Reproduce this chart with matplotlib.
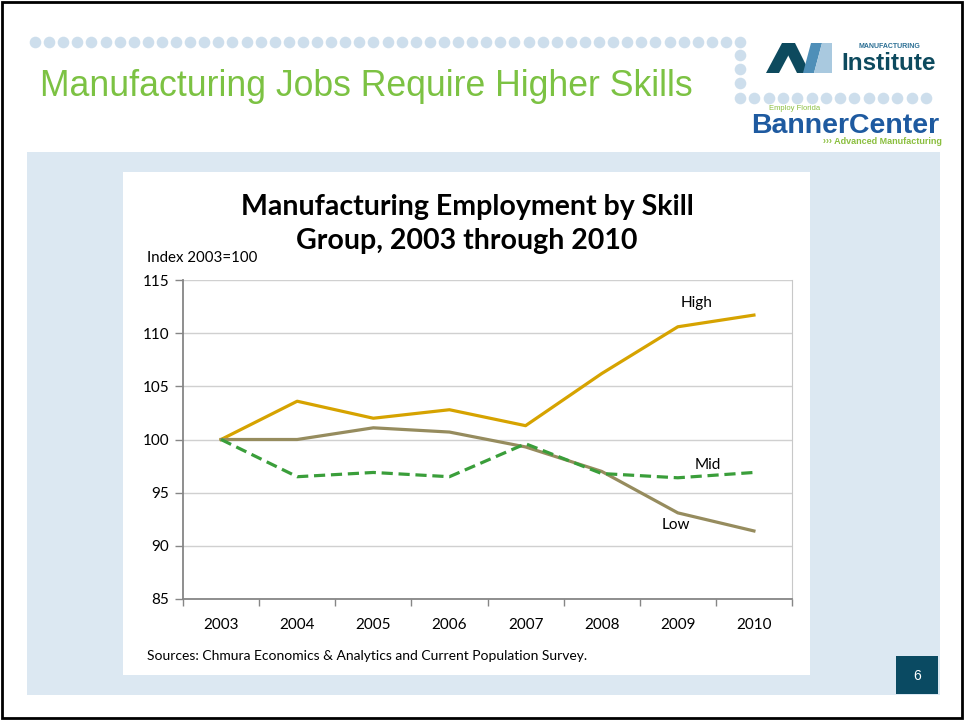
import numpy as np
import matplotlib
matplotlib.use("Agg")
import matplotlib.pyplot as plt
from matplotlib.patches import Rectangle, Polygon

# data (index, 2003 = 100)
years = ["2003", "2004", "2005", "2006", "2007", "2008", "2009", "2010"]
high = [100.0, 103.6, 102.0, 102.8, 101.3, 106.2, 110.6, 111.7]
mid = [100.0, 96.5, 96.9, 96.5, 99.6, 96.8, 96.4, 96.9]
low = [100.0, 100.0, 101.1, 100.7, 99.3, 97.0, 93.1, 91.4]
yticks = [85, 90, 95, 100, 105, 110, 115]

W, H = 965, 721
fig = plt.figure(figsize=(W / 100, H / 100), dpi=100)
fig.patch.set_facecolor("white")

# background "slide" drawn in pixel coordinates
bg = fig.add_axes([0, 0, 1, 1])
bg.set_xlim(0, W)
bg.set_ylim(H, 0)
bg.axis("off")

bg.add_patch(Rectangle((2, 2), 960, 716, fill=False, edgecolor="black", lw=2))

# dotted decoration
dot_col = "#cddeec"
top_x = np.linspace(35, 740, 51)
bg.scatter(top_x, np.full(len(top_x), 42), s=70, color=dot_col, lw=0)
bg.scatter([740, 740, 740], [55, 69, 83], s=70, color=dot_col, lw=0)
bot_x = np.linspace(740, 926, 14)
bg.scatter(bot_x, np.full(len(bot_x), 98), s=70, color=dot_col, lw=0)

bg.text(40, 86, "Manufacturing Jobs Require Higher Skills", fontsize=25.7,
        color="#7cc243", family="Liberation Sans", va="center", ha="left")

# Manufacturing Institute logo (approximation)
bg.add_patch(Polygon([(766, 73), (779, 73), (795, 43), (782, 43)], color="#0d4a5e", lw=0))
bg.add_patch(Polygon([(782, 43), (795, 43), (810, 73), (797, 73)], color="#0d4a5e", lw=0))
bg.add_patch(Polygon([(803, 73), (814, 73), (822, 43), (811, 43)], color="#4f8fb8", lw=0))
bg.add_patch(Polygon([(814, 73), (832, 73), (832, 43), (822, 43)], color="#a9c9df", lw=0))
bg.text(889, 46, "MANUFACTURING", fontsize=5, fontweight="bold", color="#2b6f94",
        ha="center", va="center", family="Liberation Sans")
bg.text(889, 63, "Institute", fontsize=17.5, fontweight="bold", color="#0d4a5e",
        ha="center", va="center", family="Liberation Sans")

# Banner Center logo (approximation)
bg.text(769, 108, "Employ Florida", fontsize=5.5, color="#8bbf3f", ha="left", va="center",
        family="Liberation Sans")
bg.text(845, 126, "BannerCenter", fontsize=20.5, fontweight="bold", color="#1e5aa0",
        ha="center", va="center", family="Liberation Sans")
bg.text(942, 142, "››› Advanced Manufacturing", fontsize=6.5, fontweight="bold",
        color="#8bbf3f", ha="right", va="center", family="Liberation Sans")

# panels
bg.add_patch(Rectangle((27, 152), 913, 543, color="#dce8f2", lw=0))
bg.add_patch(Rectangle((123, 172), 687, 503, color="white", lw=0))
bg.add_patch(Rectangle((896, 656), 42, 38, color="#0a4a62", lw=0))
bg.text(917, 676, "6", color="white", fontsize=10, ha="center", va="center",
        family="Liberation Sans")

bg.text(467, 207, "Manufacturing Employment by Skill", fontsize=20.5, fontweight="bold",
        family="Lato", ha="center", va="center")
bg.text(467, 241, "Group, 2003 through 2010", fontsize=20.5, fontweight="bold",
        family="Lato", ha="center", va="center")
bg.text(147, 258, "Index 2003=100", fontsize=10.8, family="Lato", ha="left", va="center")
bg.text(147, 656, "Sources: Chmura Economics & Analytics and Current Population Survey.",
        fontsize=10, family="Lato", ha="left", va="center")

# chart
left, right, top, bottom = 183, 792, 280, 599
ax = fig.add_axes([left / W, (H - bottom) / H, (right - left) / W, (bottom - top) / H])
ax.set_facecolor("none")
x = np.arange(len(years))
ax.plot(x, high, color="#d6a300", lw=2.3)
ax.plot(x, low, color="#968c5e", lw=2.3)
ax.plot(x, mid, color="#3a9e3a", lw=2.3, linestyle=(0, (3.5, 1.8)))

ax.set_xlim(-0.5, 7.5)
ax.set_ylim(85, 115)
ax.set_yticks(yticks)
ax.set_xticks(x)
ax.set_xticklabels(years)
ax.set_xticks(np.arange(-0.5, 8, 1), minor=True)
ax.tick_params(axis="x", which="major", length=0, pad=14, labelsize=11)
ax.tick_params(axis="x", which="minor", length=5, color="#868686", width=1)
ax.tick_params(axis="y", length=6, color="#868686", width=1, pad=4, labelsize=11)
for lab in ax.get_xticklabels() + ax.get_yticklabels():
    lab.set_family("Lato")
ax.grid(axis="y", color="#d0d0d0", lw=1)
ax.set_axisbelow(True)
ax.spines["top"].set_visible(False)
ax.spines["right"].set_color("#c8c8c8")
ax.spines["left"].set_color("#868686")
ax.spines["bottom"].set_color("#868686")
ax.spines["left"].set_linewidth(1.3)
ax.spines["bottom"].set_linewidth(1.3)

ax.text(6.25, 112.8, "High", fontsize=11, family="Lato", ha="center", va="center")
ax.text(6.4, 97.6, "Mid", fontsize=11, family="Lato", ha="center", va="center")
ax.text(5.98, 92.0, "Low", fontsize=11, family="Lato", ha="center", va="center")

fig.savefig("out.png", dpi=100)
